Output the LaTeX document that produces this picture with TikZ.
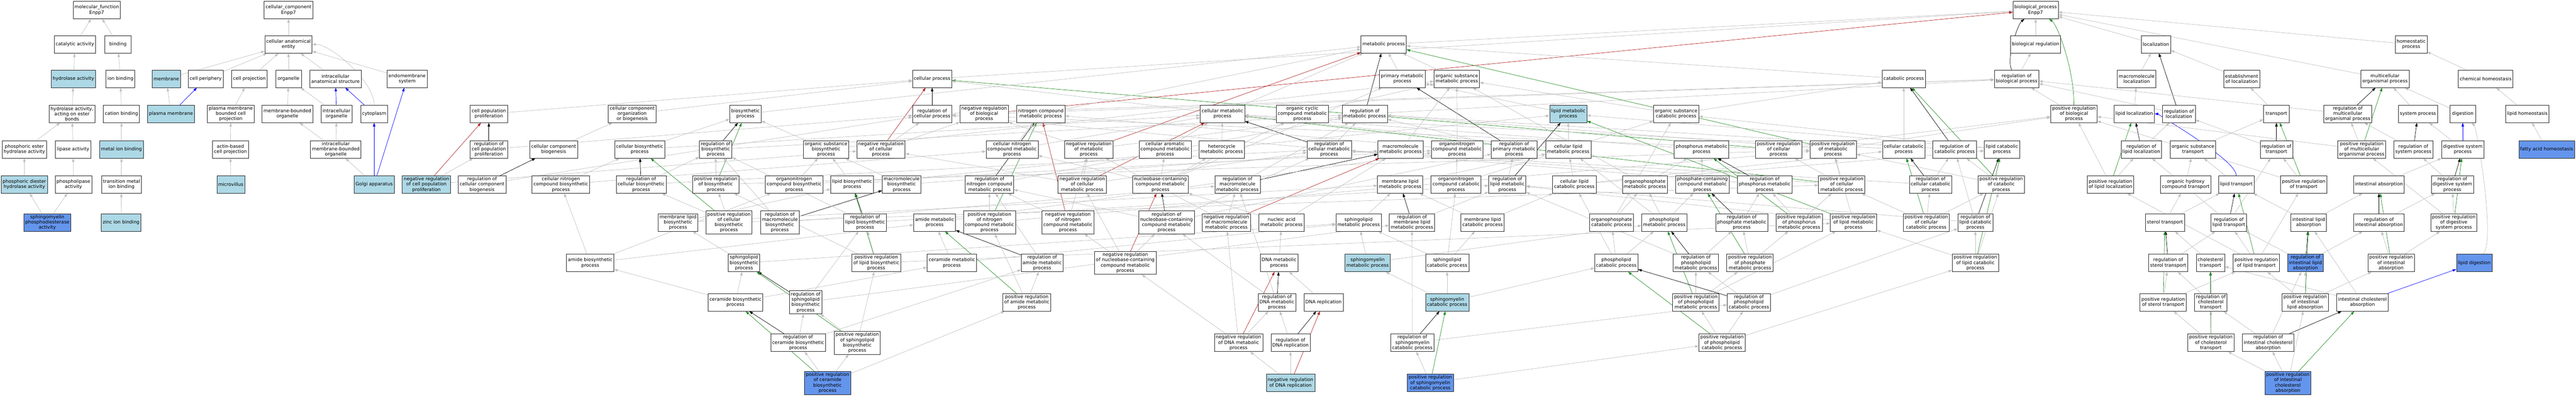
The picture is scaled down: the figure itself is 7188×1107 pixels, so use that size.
\documentclass[tikz,border=0pt]{standalone}
\usepackage{fontspec}
\setmainfont{DejaVu Sans}
\usetikzlibrary{arrows.meta}
\definecolor{edgegrey}{RGB}{192,192,192}
\definecolor{hitblue}{RGB}{173,216,230}
\definecolor{seedblue}{RGB}{100,149,237}
\definecolor{posgreen}{RGB}{34,139,34}
\definecolor{negred}{RGB}{178,34,34}
\def\termfont{\fontsize{13}{14.8}\selectfont}
\pgfdeclarelayer{edges}
\pgfsetlayers{edges,main}
\tikzset{
  term/.style={draw=black!85, line width=1pt, fill=white, align=center, minimum width=72pt, minimum height=49pt, inner xsep=4pt, inner ysep=1pt, font=\termfont},
  hit/.style={term, fill=hitblue},
  seed/.style={term, fill=seedblue},
  tall/.style={minimum height=64pt},
  gotip/.style={-{Triangle[length=10pt,width=7pt]}},
  isa/.style={gotip, edgegrey, line width=1pt},
  partof/.style={gotip, blue, line width=1pt},
  regs/.style={gotip, black, line width=1pt},
  posreg/.style={gotip, posgreen, line width=1pt},
  negreg/.style={gotip, negred, line width=1pt}
}

\begin{document}
\begin{tikzpicture}[x=1pt, y=-1pt]
			%%%%% START %%%%%
			\useasboundingbox (0,0) rectangle (7188,1107);

			%%%%% molecular function %%%%%
			\node[term] (mf) at (270,28) {molecular\_function\\Enpp7};
			\node[term] (cata) at (209,124) {catalytic activity};
			\node[term] (bind) at (329,124) {binding};
			\node[hit] (hydro) at (205,220) {hydrolase activity};
			\node[term] (ionb) at (336,220) {ion binding};
			\node[term] (hydroest) at (201,318) {hydrolase activity,\\acting on ester\\bonds};
			\node[term] (catb) at (339,318) {cation binding};
			\node[term] (phest) at (68,417) {phosphoric ester\\hydrolase activity};
			\node[term] (lipase) at (204,417) {lipase activity};
			\node[hit] (metb) at (339,417) {metal ion binding};
			\node[hit] (phdiest) at (68,515) {phosphoric diester\\hydrolase activity};
			\node[term] (phlipase) at (205,515) {phospholipase\\activity};
			\node[term] (tmetb) at (339,515) {transition metal\\ion binding};
			\node[seed] (smpde) at (132,621) {sphingomyelin\\phosphodiesterase\\activity};
			\node[hit] (zinc) at (338,621) {zinc ion binding};

			%%%%% cellular component %%%%%
			\node[term] (cc) at (805,28) {cellular\_component\\Enpp7};
			\node[term] (cae) at (805,124) {cellular anatomical\\entity};
			\node[hit] (memb) at (464,220) {membrane};
			\node[term] (cperi) at (574,220) {cell periphery};
			\node[term] (cproj) at (696,220) {cell projection};
			\node[term] (organ) at (805,220) {organelle};
			\node[term] (iastr) at (936,220) {intracellular\\anatomical structure};
			\node[term] (endo) at (1136,220) {endomembrane\\system};
			\node[hit] (pmemb) at (477,318) {plasma membrane};
			\node[term] (pmbcp) at (644,318) {plasma membrane\\bounded cell\\projection};
			\node[term] (mborg) at (802,318) {membrane-bounded\\organelle};
			\node[term] (iorg) at (939,318) {intracellular\\organelle};
			\node[term] (cyto) at (1044,318) {cytoplasm};
			\node[term] (abcp) at (643,417) {actin-based\\cell projection};
			\node[term] (imborg) at (937,417) {intracellular\\membrane-bounded\\organelle};
			\node[hit] (mvil) at (644,515) {microvillus};
			\node[hit] (golgi) at (1044,515) {Golgi apparatus};

			%%%%% biological process, left part %%%%%
			\node[hit] (nrcpp) at (1190,515) {negative regulation\\of cell population\\proliferation};
			\node[term] (cpp) at (1364,318) {cell population\\proliferation};
			\node[term] (rcpp) at (1364,417) {regulation of\\cell population\\proliferation};
			\node[term] (ccob) at (1764,318) {cellular component\\organization\\or biogenesis};
			\node[term] (ccb) at (1545,417) {cellular component\\biogenesis};
			\node[term] (cbsp) at (1785,417) {cellular biosynthetic\\process};
			\node[term] (rccb) at (1345,515) {regulation of\\cellular component\\biogenesis};
			\node[term] (cncbp) at (1565,515) {cellular nitrogen\\compound biosynthetic\\process};
			\node[term] (rcbsp) at (1789,515) {regulation of\\cellular biosynthetic\\process};
			\node[term] (abp) at (1647,734) {amide biosynthetic\\process};
			\node[term] (bsp) at (2080,318) {biosynthetic\\process};
			\node[term] (rbsp) at (1997,417) {regulation of\\biosynthetic\\process};
			\node[term] (osbp) at (2305,417) {organic substance\\biosynthetic\\process};
			\node[term] (nrcp) at (2458,417) {negative regulation\\of cellular\\process};
			\node[term] (prbsp) at (1997,515) {positive regulation\\of biosynthetic\\process};
			\node[term] (oncbp) at (2216,515) {organonitrogen\\compound biosynthetic\\process};
			\node[term] (lbp) at (2378,515) {lipid biosynthetic\\process};
			\node[term] (mlbp) at (1892,621) {membrane lipid\\biosynthetic\\process};
			\node[term,tall] (prcbsp) at (2034,621) {positive regulation\\of cellular\\biosynthetic\\process};
			\node[term,tall] (rmbp) at (2176,621) {regulation of\\macromolecule\\biosynthetic\\process};
			\node[term] (rlbp) at (2414,621) {regulation of\\lipid biosynthetic\\process};
			\node[term] (slbp) at (2076,734) {sphingolipid\\biosynthetic\\process};
			\node[term] (prlbp) at (2445,734) {positive regulation\\of lipid biosynthetic\\process};
			\node[term] (cerbp) at (2052,844) {ceramide biosynthetic\\process};
			\node[term,tall] (rslbp) at (2248,844) {regulation of\\sphingolipid\\biosynthetic\\process};
			\node[term] (rcerbp) at (2227,957) {regulation of\\ceramide biosynthetic\\process};
			\node[term,tall] (prslbp) at (2392,957) {positive regulation\\of sphingolipid\\biosynthetic\\process};
			\node[seed,tall] (prcerbp) at (2309,1069) {positive regulation\\of ceramide\\biosynthetic\\process};

			\node[term] (cp) at (2601,220) {cellular process};
			\node[term] (rcp) at (2601,318) {regulation of\\cellular process};
			\node[term] (nrbp) at (2746,318) {negative regulation\\of biological\\process};
			\node[term] (ncmp) at (2904,318) {nitrogen compound\\metabolic process};
			\node[term] (cncmp) at (2824,417) {cellular nitrogen\\compound metabolic\\process};
			\node[term] (nrmp) at (3038,417) {negative regulation\\of metabolic\\process};
			\node[term] (mbp) at (2516,515) {macromolecule\\biosynthetic\\process};
			\node[term] (rncmp) at (2761,515) {regulation of\\nitrogen compound\\metabolic process};
			\node[term] (nrcmp) at (3020,515) {negative regulation\\of cellular\\metabolic process};
			\node[term] (amp) at (2608,621) {amide metabolic\\process};
			\node[term,tall] (prncmp) at (2761,621) {positive regulation\\of nitrogen\\compound metabolic\\process};
			\node[term,tall] (nrncmp) at (2980,621) {negative regulation\\of nitrogen\\compound metabolic\\process};
			\node[term] (cermp) at (2656,734) {ceramide metabolic\\process};
			\node[term] (ramp) at (2908,734) {regulation of\\amide metabolic\\process};
			\node[term] (pramp) at (2865,844) {positive regulation\\of amide metabolic\\process};

			%%%%% metabolism %%%%%
			\node[term] (cmp) at (3411,318) {cellular metabolic\\process};
			\node[term] (occmp) at (3634,318) {organic cyclic\\compound metabolic\\process};
			\node[term] (cacmp) at (3251,417) {cellular aromatic\\compound metabolic\\process};
			\node[term] (hmp) at (3409,417) {heterocycle\\metabolic process};
			\node[term] (nbcmp) at (3238,515) {nucleobase-containing\\compound metabolic\\process};
			\node[term] (rmmp) at (3453,515) {regulation of\\macromolecule\\metabolic process};
			\node[term,tall] (rnbcmp) at (3255,621) {regulation of\\nucleobase-containing\\compound metabolic\\process};
			\node[term] (nrmmp) at (3422,621) {negative regulation\\of macromolecule\\metabolic process};
			\node[term] (namp) at (3576,621) {nucleic acid\\metabolic process};
			\node[term,tall] (nrnbcmp) at (3140,734) {negative regulation\\of nucleobase-containing\\compound metabolic\\process};
			\node[term] (dnamp) at (3569,734) {DNA metabolic\\process};
			\node[term] (rdnamp) at (3563,844) {regulation of\\DNA metabolic\\process};
			\node[term] (nrdnamp) at (3456,957) {negative regulation\\of DNA metabolic\\process};
			\node[term] (rdnar) at (3601,957) {regulation of\\DNA replication};
			\node[hit] (nrdnar) at (3601,1069) {negative regulation\\of DNA replication};

			\node[term] (mp) at (3861,124) {metabolic process};
			\node[term] (pmp) at (3913,220) {primary metabolic\\process};
			\node[term] (osmp) at (4065,220) {organic substance\\metabolic process};
			\node[term] (rmp) at (3808,318) {regulation of\\metabolic process};
			\node[term] (rcmp) at (3709,417) {regulation of\\cellular metabolic\\process};
			\node[term] (mmp) at (3908,417) {macromolecule\\metabolic process};
			\node[term] (oncmp) at (4066,417) {organonitrogen\\compound metabolic\\process};
			\node[term] (rpmp) at (4225,417) {regulation of\\primary metabolic\\process};
			\node[term] (mlmp) at (3907,515) {membrane lipid\\metabolic process};
			\node[term] (onccp) at (4063,515) {organonitrogen\\compound catabolic\\process};
			\node[term] (rlmp) at (4206,515) {regulation of\\lipid metabolic\\process};
			\node[term] (slmp) at (3791,621) {sphingolipid\\metabolic process};
			\node[term] (rmlmp) at (3940,621) {regulation of\\membrane lipid\\metabolic process};
			\node[term] (mlcp) at (4137,621) {membrane lipid\\catabolic process};
			\node[hit] (smmp) at (3816,734) {sphingomyelin\\metabolic process};
			\node[term] (slcp) at (4038,734) {sphingolipid\\catabolic process};
			\node[term] (dnar) at (3693,844) {DNA replication};
			\node[hit] (smcp) at (4038,844) {sphingomyelin\\catabolic process};
			\node[term] (rsmcp) at (3941,957) {regulation of\\sphingomyelin\\catabolic process};
			\node[seed] (prsmcp) at (3991,1069) {positive regulation\\of sphingomyelin\\catabolic process};

			\node[hit] (lmp) at (4376,318) {lipid metabolic\\process};
			\node[term] (oscp) at (4677,318) {organic substance\\catabolic process};
			\node[term] (clmp) at (4376,417) {cellular lipid\\metabolic process};
			\node[term] (phmp) at (4748,417) {phosphorus metabolic\\process};
			\node[term] (clcp) at (4393,515) {cellular lipid\\catabolic process};
			\node[term] (opmp) at (4590,515) {organophosphate\\metabolic process};
			\node[term] (pccmp) at (4750,515) {phosphate-containing\\compound metabolic\\process};
			\node[term] (opcp) at (4497,621) {organophosphate\\catabolic process};
			\node[term] (plmp) at (4644,621) {phospholipid\\metabolic process};
			\node[term] (rpcmp) at (4860,621) {regulation of\\phosphate metabolic\\process};
			\node[term] (plcp) at (4510,734) {phospholipid\\catabolic process};
			\node[term] (rplmp) at (4732,734) {regulation of\\phospholipid\\metabolic process};
			\node[term] (prplmp) at (4732,844) {positive regulation\\of phospholipid\\metabolic process};
			\node[term] (prplcp) at (4805,957) {positive regulation\\of phospholipid\\catabolic process};

			\node[term] (catp) at (5312,220) {catabolic process};
			\node[term] (prcp) at (4963,417) {positive regulation\\of cellular\\process};
			\node[term] (prmp) at (5115,417) {positive regulation\\of metabolic\\process};
			\node[term] (ccatp) at (5312,417) {cellular catabolic\\process};
			\node[term] (rcatp) at (5454,417) {regulation of\\catabolic process};
			\node[term] (rphmp) at (4924,515) {regulation of\\phosphorus metabolic\\process};
			\node[term] (prcmp) at (5139,515) {positive regulation\\of cellular\\metabolic process};
			\node[term] (rccatp) at (5387,515) {regulation of\\cellular catabolic\\process};
			\node[term] (prphmp) at (5020,621) {positive regulation\\of phosphorus\\metabolic process};
			\node[term] (prlmp) at (5172,621) {positive regulation\\of lipid metabolic\\process};
			\node[term] (prccatp) at (5375,621) {positive regulation\\of cellular\\catabolic process};
			\node[term] (prpcmp) at (4883,734) {positive regulation\\of phosphate\\metabolic process};
			\node[term] (rplcp) at (4880,844) {regulation of\\phospholipid\\catabolic process};

			%%%%% biological process, right part %%%%%
			\node[term] (bp) at (5680,28) {biological\_process\\Enpp7};
			\node[term] (breg) at (5680,124) {biological regulation};
			\node[term] (loc) at (6016,124) {localization};
			\node[term] (rbp) at (5627,220) {regulation of\\biological process};
			\node[term] (mloc) at (5962,220) {macromolecule\\localization};
			\node[term] (prbp) at (5787,318) {positive regulation\\of biological\\process};
			\node[term] (lloc) at (5955,318) {lipid localization};
			\node[term] (lcp) at (5586,417) {lipid catabolic\\process};
			\node[term] (rlloc) at (5975,417) {regulation of\\lipid localization};
			\node[term] (prcatp) at (5584,515) {positive regulation\\of catabolic\\process};
			\node[term] (prlloc) at (5889,515) {positive regulation\\of lipid localization};
			\node[term] (rlcp) at (5512,621) {regulation of\\lipid catabolic\\process};
			\node[term] (prlcp) at (5512,734) {positive regulation\\of lipid catabolic\\process};

			\node[term] (eloc) at (6255,220) {establishment\\of localization};
			\node[term] (mop) at (6655,220) {multicellular\\organismal process};
			\node[term] (rloc) at (6080,318) {regulation of\\localization};
			\node[term] (tr) at (6352,318) {transport};
			\node[term] (rmop) at (6551,318) {regulation of\\multicellular\\organismal process};
			\node[term] (ost) at (6119,417) {organic substance\\transport};
			\node[term] (rtr) at (6352,417) {regulation of\\transport};
			\node[term] (prmop) at (6590,417) {positive regulation\\of multicellular\\organismal process};
			\node[term] (ohct) at (6099,515) {organic hydroxy\\compound transport};
			\node[term] (lt) at (6240,515) {lipid transport};
			\node[term] (prtr) at (6428,515) {positive regulation\\of transport};
			\node[term] (ia) at (6638,515) {intestinal absorption};
			\node[term] (st) at (6041,621) {sterol transport};
			\node[term] (rlt) at (6219,621) {regulation of\\lipid transport};
			\node[term] (ila) at (6442,621) {intestinal lipid\\absorption};
			\node[term] (ria) at (6638,621) {regulation of\\intestinal absorption};
			\node[term] (rst) at (6050,734) {regulation of\\sterol transport};
			\node[term] (ct) at (6168,734) {cholesterol\\transport};
			\node[term] (prlt) at (6296,734) {positive regulation\\of lipid transport};
			\node[seed] (rila) at (6433,734) {regulation of\\intestinal lipid\\absorption};
			\node[term] (prst) at (6036,844) {positive regulation\\of sterol transport};
			\node[term] (rct) at (6169,844) {regulation of\\cholesterol\\transport};
			\node[term] (prila) at (6432,844) {positive regulation\\of intestinal\\lipid absorption};
			\node[term] (ica) at (6592,844) {intestinal cholesterol\\absorption};
			\node[term] (prct) at (6169,957) {positive regulation\\of cholesterol\\transport};
			\node[term] (rica) at (6329,957) {regulation of\\intestinal cholesterol\\absorption};
			\node[seed,tall] (prica) at (6384,1069) {positive regulation\\of intestinal\\cholesterol\\absorption};

			\node[term] (hp) at (6728,124) {homeostatic\\process};
			\node[term] (chh) at (6936,220) {chemical homeostasis};
			\node[term] (sp) at (6747,318) {system process};
			\node[term] (dig) at (6872,318) {digestion};
			\node[term] (lh) at (7052,318) {lipid homeostasis};
			\node[term] (rsp) at (6734,417) {regulation of\\system process};
			\node[term] (dsp) at (6872,417) {digestive system\\process};
			\node[seed] (fah) at (7106,417) {fatty acid homeostasis};
			\node[term] (rdsp) at (6843,515) {regulation of\\digestive system\\process};
			\node[term] (prdsp) at (6847,621) {positive regulation\\of digestive\\system process};
			\node[term] (pria) at (6672,734) {positive regulation\\of intestinal\\absorption};
			\node[seed] (ld) at (6904,734) {lipid digestion};

			\begin{pgfonlayer}{edges}
			\fill[white] (0,0) rectangle (7188,1107);

			%%%%% molecular function edges %%%%%
			\draw[isa] (cata) -- (mf); \draw[isa] (bind) -- (mf);
			\draw[isa] (hydro) -- (cata); \draw[isa] (ionb) -- (bind);
			\draw[isa] (hydroest) -- (hydro); \draw[isa] (catb) -- (ionb);
			\draw[isa] (phest) -- (hydroest); \draw[isa] (lipase) -- (hydroest);
			\draw[isa] (metb) -- (catb);
			\draw[isa] (phdiest) -- (phest); \draw[isa] (phlipase) -- (lipase);
			\draw[isa] (tmetb) -- (metb);
			\draw[isa] (smpde) -- (phdiest); \draw[isa] (smpde) -- (phlipase);
			\draw[isa] (zinc) -- (tmetb);

			%%%%% cellular component edges %%%%%
			\draw[isa] (cae) -- (cc);
			\draw[isa] (memb) -- (cae); \draw[isa] (cperi) -- (cae); \draw[isa] (cproj) -- (cae);
			\draw[isa] (organ) -- (cae); \draw[isa] (iastr) -- (cae); \draw[isa] (endo) -- (cae);
			\draw[isa] (cyto) .. controls +(0,-90) and +(120,0) .. (cae);
			\draw[isa] (pmemb) -- (memb); \draw[partof] (pmemb) -- (cperi);
			\draw[isa] (pmbcp) -- (cproj); \draw[isa] (abcp) -- (pmbcp); \draw[isa] (mvil) -- (abcp);
			\draw[isa] (mborg) -- (organ); \draw[isa] (iorg) -- (organ);
			\draw[partof] (iorg) -- (iastr); \draw[partof] (cyto) -- (iastr);
			\draw[isa] (imborg) -- (mborg); \draw[isa] (imborg) -- (iorg);
			\draw[isa] (golgi) -- (imborg); \draw[partof] (golgi) -- (cyto); \draw[partof] (golgi) -- (endo);

			%%%%% biological process edges %%%%%
			\draw[isa] (breg) -- (bp); \draw[isa] (cp) -- (bp); \draw[isa] (mp) -- (bp);
			\draw[isa] (loc) -- (bp); \draw[isa] (mop) -- (bp); \draw[isa] (hp) -- (bp);
			\draw[isa] (rbp) -- (breg); \draw[regs] (rbp) .. controls +(-30,-55) and +(-50,40) .. (bp);
			\draw[isa] (prbp) -- (rbp); \draw[posreg] (prbp) .. controls +(0,-130) and +(60,40) .. (bp);
			\draw[isa] (nrbp) -- (rbp); \draw[negreg] (nrbp) -- (bp);

			\draw[isa] (rcp) -- (rbp); \draw[regs] (rcp) -- (cp);
			\draw[isa] (nrcp) -- (rcp); \draw[isa] (nrcp) -- (nrbp); \draw[negreg] (nrcp) -- (cp);
			\draw[isa] (prcp) -- (rcp); \draw[isa] (prcp) -- (prbp); \draw[posreg] (prcp) -- (cp);
			\draw[isa] (cpp) -- (cp); \draw[isa] (rcpp) -- (rcp); \draw[regs] (rcpp) -- (cpp);
			\draw[isa] (nrcpp) -- (rcpp); \draw[isa] (nrcpp) -- (nrcp); \draw[negreg] (nrcpp) -- (cpp);
			\draw[isa] (ccob) -- (cp); \draw[isa] (ccb) -- (ccob);
			\draw[isa] (rccb) -- (rcp); \draw[regs] (rccb) -- (ccb);

			\draw[isa] (cmp) -- (cp); \draw[isa] (cmp) -- (mp);
			\draw[isa] (pmp) -- (mp); \draw[isa] (osmp) -- (mp); \draw[isa] (ncmp) -- (mp);
			\draw[isa] (rmp) -- (rbp); \draw[regs] (rmp) -- (mp);
			\draw[isa] (prmp) -- (rmp); \draw[isa] (prmp) -- (prbp); \draw[posreg] (prmp) -- (mp);
			\draw[isa] (nrmp) -- (rmp); \draw[isa] (nrmp) -- (nrbp); \draw[negreg] (nrmp) -- (mp);
			\draw[isa] (rcmp) -- (rmp); \draw[isa] (rcmp) -- (rcp); \draw[regs] (rcmp) -- (cmp);
			\draw[isa] (prcmp) -- (rcmp); \draw[isa] (prcmp) -- (prmp); \draw[isa] (prcmp) -- (prcp); \draw[posreg] (prcmp) -- (cmp);
			\draw[isa] (nrcmp) -- (rcmp); \draw[isa] (nrcmp) -- (nrmp); \draw[isa] (nrcmp) -- (nrcp); \draw[negreg] (nrcmp) -- (cmp);
			\draw[isa] (rpmp) -- (rmp); \draw[regs] (rpmp) -- (pmp);
			\draw[isa] (mmp) -- (osmp);
			\draw[isa] (rmmp) -- (rmp); \draw[regs] (rmmp) -- (mmp);
			\draw[isa] (nrmmp) -- (rmmp); \draw[isa] (nrmmp) -- (nrmp); \draw[negreg] (nrmmp) -- (mmp);
			\draw[isa] (rncmp) -- (rmp); \draw[regs] (rncmp) -- (ncmp);
			\draw[isa] (prncmp) -- (rncmp); \draw[isa] (prncmp) -- (prmp); \draw[posreg] (prncmp) -- (ncmp);
			\draw[isa] (nrncmp) -- (rncmp); \draw[isa] (nrncmp) -- (nrmp); \draw[negreg] (nrncmp) -- (ncmp);
			\draw[isa] (cncmp) -- (cmp); \draw[isa] (cncmp) -- (ncmp);
			\draw[isa] (oncmp) -- (osmp); \draw[isa] (oncmp) -- (ncmp);
			\draw[isa] (occmp) -- (osmp); \draw[isa] (cacmp) -- (cmp); \draw[isa] (hmp) -- (cmp);

			\draw[isa] (nbcmp) -- (cacmp); \draw[isa] (nbcmp) -- (hmp); \draw[isa] (nbcmp) -- (occmp);
			\draw[isa] (nbcmp) -- (cncmp); \draw[isa] (nbcmp) -- (pmp);
			\draw[isa] (rnbcmp) -- (rcmp); \draw[isa] (rnbcmp) -- (rpmp); \draw[isa] (rnbcmp) -- (rncmp); \draw[regs] (rnbcmp) -- (nbcmp);
			\draw[isa] (nrnbcmp) -- (rnbcmp); \draw[isa] (nrnbcmp) -- (nrcmp); \draw[isa] (nrnbcmp) -- (nrncmp); \draw[negreg] (nrnbcmp) -- (nbcmp);
			\draw[isa] (namp) -- (nbcmp); \draw[isa] (namp) -- (mmp);
			\draw[isa] (dnamp) -- (namp);
			\draw[isa] (rdnamp) -- (rnbcmp); \draw[isa] (rdnamp) -- (rmmp); \draw[regs] (rdnamp) -- (dnamp);
			\draw[isa] (nrdnamp) -- (rdnamp); \draw[isa] (nrdnamp) -- (nrnbcmp); \draw[isa] (nrdnamp) -- (nrmmp); \draw[negreg] (nrdnamp) -- (dnamp);
			\draw[isa] (dnar) -- (dnamp);
			\draw[isa] (rdnar) -- (rdnamp); \draw[regs] (rdnar) -- (dnar);
			\draw[isa] (nrdnar) -- (rdnar); \draw[isa] (nrdnar) -- (nrdnamp); \draw[negreg] (nrdnar) -- (dnar);

			%%%%% biosynthesis edges %%%%%
			\draw[isa] (bsp) -- (mp);
			\draw[isa] (rbsp) -- (rmp); \draw[regs] (rbsp) -- (bsp);
			\draw[isa] (prbsp) -- (rbsp); \draw[isa] (prbsp) -- (prmp); \draw[posreg] (prbsp) -- (bsp);
			\draw[isa] (cbsp) -- (bsp); \draw[isa] (cbsp) -- (cmp);
			\draw[isa] (rcbsp) -- (rbsp); \draw[isa] (rcbsp) -- (rcmp); \draw[regs] (rcbsp) -- (cbsp);
			\draw[isa] (prcbsp) -- (rcbsp); \draw[isa] (prcbsp) -- (prbsp); \draw[isa] (prcbsp) -- (prcmp); \draw[posreg] (prcbsp) -- (cbsp);
			\draw[isa] (osbp) -- (bsp); \draw[isa] (osbp) -- (osmp);
			\draw[isa] (cncbp) -- (cbsp); \draw[isa] (cncbp) -- (cncmp);
			\draw[isa] (oncbp) -- (osbp); \draw[isa] (oncbp) -- (oncmp);
			\draw[isa] (mbp) -- (osbp); \draw[isa] (mbp) -- (mmp);
			\draw[isa] (rmbp) -- (rbsp); \draw[isa] (rmbp) -- (rmmp); \draw[regs] (rmbp) -- (mbp);
			\draw[isa] (lmp) -- (pmp);
			\draw[isa] (lbp) -- (lmp); \draw[isa] (lbp) -- (osbp);
			\draw[isa] (rlmp) -- (rpmp); \draw[regs] (rlmp) -- (lmp);
			\draw[isa] (prlmp) -- (rlmp); \draw[isa] (prlmp) -- (prmp); \draw[posreg] (prlmp) -- (lmp);
			\draw[isa] (rlbp) -- (rlmp); \draw[isa] (rlbp) -- (rbsp); \draw[regs] (rlbp) -- (lbp);
			\draw[isa] (prlbp) -- (rlbp); \draw[isa] (prlbp) -- (prlmp); \draw[isa] (prlbp) -- (prbsp); \draw[posreg] (prlbp) -- (lbp);
			\draw[isa] (mlmp) -- (clmp);
			\draw[isa] (mlbp) -- (mlmp); \draw[isa] (mlbp) -- (lbp);
			\draw[isa] (slmp) -- (mlmp);
			\draw[isa] (slbp) -- (slmp); \draw[isa] (slbp) -- (mlbp);
			\draw[isa] (rslbp) -- (rlbp); \draw[isa] (rslbp) -- (rmlmp); \draw[regs] (rslbp) -- (slbp);
			\draw[isa] (prslbp) -- (rslbp); \draw[isa] (prslbp) -- (prlbp); \draw[posreg] (prslbp) -- (slbp);
			\draw[isa] (amp) -- (oncmp);
			\draw[isa] (cermp) -- (slmp); \draw[isa] (cermp) -- (amp);
			\draw[isa] (abp) -- (amp); \draw[isa] (abp) -- (cncbp); \draw[isa] (abp) -- (oncbp);
			\draw[isa] (cerbp) -- (cermp); \draw[isa] (cerbp) -- (slbp); \draw[isa] (cerbp) -- (abp);
			\draw[isa] (ramp) -- (rncmp); \draw[regs] (ramp) -- (amp);
			\draw[isa] (pramp) -- (ramp); \draw[isa] (pramp) -- (prncmp); \draw[posreg] (pramp) -- (amp);
			\draw[isa] (rcerbp) -- (rslbp); \draw[isa] (rcerbp) -- (ramp); \draw[regs] (rcerbp) -- (cerbp);
			\draw[isa] (prcerbp) -- (rcerbp); \draw[isa] (prcerbp) -- (prslbp); \draw[isa] (prcerbp) -- (pramp); \draw[posreg] (prcerbp) -- (cerbp);

			%%%%% catabolism edges %%%%%
			\draw[isa] (catp) -- (mp);
			\draw[isa] (ccatp) -- (catp); \draw[isa] (ccatp) -- (cmp);
			\draw[isa] (rcatp) -- (rmp); \draw[regs] (rcatp) -- (catp);
			\draw[isa] (prcatp) -- (rcatp); \draw[isa] (prcatp) -- (prmp); \draw[posreg] (prcatp) -- (catp);
			\draw[isa] (rccatp) -- (rcatp); \draw[isa] (rccatp) -- (rcmp); \draw[regs] (rccatp) -- (ccatp);
			\draw[isa] (prccatp) -- (rccatp); \draw[isa] (prccatp) -- (prcatp); \draw[isa] (prccatp) -- (prcmp); \draw[posreg] (prccatp) -- (ccatp);
			\draw[isa] (oscp) -- (catp); \draw[isa] (oscp) -- (osmp);
			\draw[isa] (lcp) -- (lmp); \draw[isa] (lcp) -- (oscp);
			\draw[isa] (rlcp) -- (rlmp); \draw[isa] (rlcp) -- (rcatp); \draw[regs] (rlcp) -- (lcp);
			\draw[isa] (prlcp) -- (rlcp); \draw[isa] (prlcp) -- (prlmp); \draw[isa] (prlcp) -- (prcatp); \draw[posreg] (prlcp) -- (lcp);
			\draw[isa] (clmp) -- (lmp); \draw[isa] (clmp) -- (cmp);
			\draw[isa] (clcp) -- (lcp); \draw[isa] (clcp) -- (clmp); \draw[isa] (clcp) -- (ccatp);
			\draw[isa] (mlcp) -- (mlmp); \draw[isa] (mlcp) -- (clcp);
			\draw[isa] (onccp) -- (oncmp); \draw[isa] (onccp) -- (oscp);
			\draw[isa] (slcp) -- (slmp); \draw[isa] (slcp) -- (mlcp); \draw[isa] (slcp) -- (onccp);
			\draw[isa] (smmp) -- (slmp); \draw[isa] (smmp) -- (plmp);
			\draw[isa] (smcp) -- (smmp); \draw[isa] (smcp) -- (slcp); \draw[isa] (smcp) -- (plcp);
			\draw[isa] (rmlmp) -- (rlmp); \draw[regs] (rmlmp) -- (mlmp);
			\draw[isa] (rsmcp) -- (rmlmp); \draw[isa] (rsmcp) -- (rplcp); \draw[regs] (rsmcp) -- (smcp);
			\draw[isa] (prsmcp) -- (rsmcp); \draw[isa] (prsmcp) -- (prplcp); \draw[posreg] (prsmcp) -- (smcp);

			\draw[isa] (phmp) -- (cmp); \draw[isa] (pccmp) -- (phmp);
			\draw[isa] (opmp) -- (phmp); \draw[isa] (opmp) -- (osmp);
			\draw[isa] (opcp) -- (opmp); \draw[isa] (opcp) -- (oscp);
			\draw[isa] (plmp) -- (opmp); \draw[isa] (plmp) -- (pccmp); \draw[isa] (plmp) -- (clmp);
			\draw[isa] (plcp) -- (plmp); \draw[isa] (plcp) -- (opcp); \draw[isa] (plcp) -- (clcp);
			\draw[isa] (rphmp) -- (rcmp); \draw[regs] (rphmp) -- (phmp);
			\draw[isa] (rpcmp) -- (rphmp); \draw[regs] (rpcmp) -- (pccmp);
			\draw[isa] (prphmp) -- (rphmp); \draw[isa] (prphmp) -- (prcmp); \draw[posreg] (prphmp) -- (phmp);
			\draw[isa] (prpcmp) -- (rpcmp); \draw[isa] (prpcmp) -- (prphmp); \draw[posreg] (prpcmp) -- (pccmp);
			\draw[isa] (rplmp) -- (rlmp); \draw[isa] (rplmp) -- (rpcmp); \draw[regs] (rplmp) -- (plmp);
			\draw[isa] (prplmp) -- (rplmp); \draw[isa] (prplmp) -- (prlmp); \draw[isa] (prplmp) -- (prpcmp); \draw[posreg] (prplmp) -- (plmp);
			\draw[isa] (rplcp) -- (rplmp); \draw[isa] (rplcp) -- (rlcp); \draw[regs] (rplcp) -- (plcp);
			\draw[isa] (prplcp) -- (rplcp); \draw[isa] (prplcp) -- (prplmp); \draw[isa] (prplcp) -- (prlcp); \draw[posreg] (prplcp) -- (plcp);

			%%%%% localization and transport edges %%%%%
			\draw[isa] (eloc) -- (loc); \draw[isa] (mloc) -- (loc); \draw[isa] (lloc) -- (mloc);
			\draw[isa] (rloc) -- (rbp); \draw[regs] (rloc) -- (loc);
			\draw[isa] (rlloc) -- (rloc); \draw[regs] (rlloc) -- (lloc);
			\draw[isa] (prlloc) -- (rlloc); \draw[isa] (prlloc) -- (prbp); \draw[posreg] (prlloc) -- (lloc);
			\draw[isa] (tr) -- (eloc);
			\draw[isa] (rtr) -- (rloc); \draw[regs] (rtr) -- (tr);
			\draw[isa] (prtr) -- (rtr); \draw[isa] (prtr) -- (prbp); \draw[posreg] (prtr) -- (tr);
			\draw[isa] (ost) -- (tr); \draw[isa] (ohct) -- (ost);
			\draw[isa] (lt) -- (ost); \draw[partof] (lt) .. controls +(0,-70) and +(60,0) .. (lloc);
			\draw[isa] (rlt) -- (rtr); \draw[isa] (rlt) -- (rlloc); \draw[regs] (rlt) -- (lt);
			\draw[isa] (prlt) -- (rlt); \draw[isa] (prlt) -- (prtr); \draw[isa] (prlt) -- (prlloc); \draw[posreg] (prlt) -- (lt);
			\draw[isa] (st) -- (lt); \draw[isa] (st) -- (ohct);
			\draw[isa] (rst) -- (rlt); \draw[regs] (rst) -- (st);
			\draw[isa] (prst) -- (rst); \draw[isa] (prst) -- (prlt); \draw[posreg] (prst) -- (st);
			\draw[isa] (ct) -- (st);
			\draw[isa] (rct) -- (rst); \draw[regs] (rct) -- (ct);
			\draw[isa] (prct) -- (rct); \draw[isa] (prct) -- (prst); \draw[posreg] (prct) -- (ct);

			\draw[isa] (sp) -- (mop); \draw[isa] (dig) -- (mop);
			\draw[isa] (rmop) -- (rbp); \draw[regs] (rmop) -- (mop);
			\draw[isa] (prmop) -- (rmop); \draw[isa] (prmop) -- (prbp); \draw[posreg] (prmop) -- (mop);
			\draw[isa] (rsp) -- (rmop); \draw[regs] (rsp) -- (sp);
			\draw[isa] (dsp) -- (sp); \draw[partof] (dsp) -- (dig);
			\draw[isa] (rdsp) -- (rsp); \draw[regs] (rdsp) -- (dsp);
			\draw[isa] (prdsp) -- (rdsp); \draw[isa] (prdsp) -- (prmop); \draw[posreg] (prdsp) -- (dsp);
			\draw[isa] (ia) -- (dsp);
			\draw[isa] (ria) -- (rdsp); \draw[regs] (ria) -- (ia);
			\draw[isa] (pria) -- (ria); \draw[isa] (pria) -- (prdsp); \draw[posreg] (pria) -- (ia);
			\draw[isa] (ila) -- (ia); \draw[isa] (ila) -- (lt);
			\draw[isa] (rila) -- (ria); \draw[isa] (rila) -- (rlt); \draw[regs] (rila) -- (ila);
			\draw[isa] (prila) -- (rila); \draw[isa] (prila) -- (pria); \draw[isa] (prila) -- (prlt); \draw[posreg] (prila) -- (ila);
			\draw[isa] (ica) -- (ila); \draw[isa] (ica) -- (ct); \draw[partof] (ica) -- (ld);
			\draw[isa] (rica) -- (rila); \draw[isa] (rica) -- (rct); \draw[regs] (rica) -- (ica);
			\draw[isa] (prica) -- (rica); \draw[isa] (prica) -- (prila); \draw[isa] (prica) -- (prct); \draw[posreg] (prica) -- (ica);
			\draw[isa] (ld) .. controls +(60,-60) and +(40,40) .. (dig);
			\draw[isa] (chh) -- (hp); \draw[isa] (lh) -- (chh); \draw[isa] (fah) -- (lh);
			\end{pgfonlayer}

			%%%%% END %%%%%
\end{tikzpicture}
\end{document}
